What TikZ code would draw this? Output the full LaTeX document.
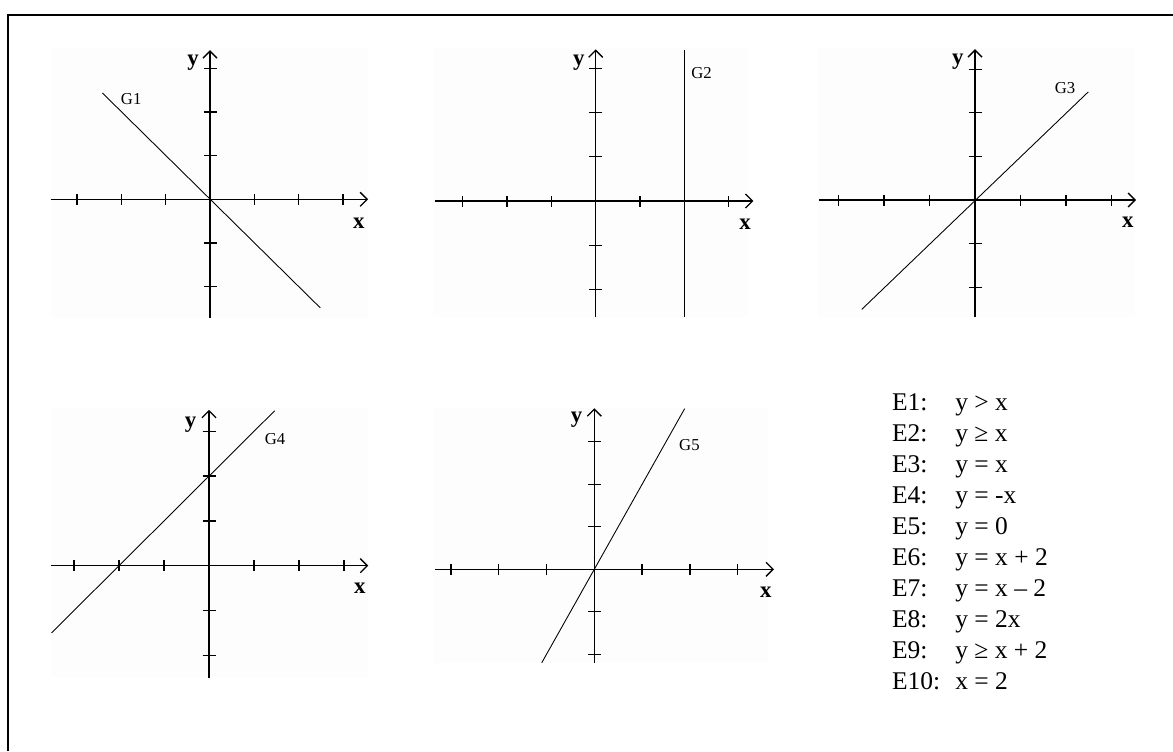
\documentclass[tikz,border=0pt]{standalone}
\usepackage{fontspec}
\setmainfont{Liberation Serif}
\usetikzlibrary{arrows.meta}
\definecolor{panel}{RGB}{253,253,253}
\tikzset{
    axis/.style={line width=0.75pt, -{Straight Barb[length=4pt,width=8pt]}},
    tickmark/.style={line width=0.75pt},
    graphline/.style={line width=0.5pt},
    axislabel/.style={font=\fontsize{13}{13}\selectfont\bfseries, inner sep=0pt},
    glabel/.style={font=\fontsize{9.5}{9.5}\selectfont, inner sep=0pt},
    eqtext/.style={font=\fontsize{14.5}{14.5}\selectfont, inner sep=0pt, anchor=base west}
}
\begin{document}
\begin{tikzpicture}[x=0.02cm, y=-0.02cm]
    \useasboundingbox (0,0) rectangle (1173,751);
    \draw[line width=1.3pt] (8,751) -- (8,15) -- (1173,15);

    % G1
    \begin{scope}[shift={(210,199.3)}, x=0.886cm, y=0.872cm]
        \fill[panel] (-3.6,-2.72) rectangle (3.57,3.47);
        \draw[axis] (-3.6,0) -- (3.57,0);
        \draw[axis] (0,-2.73) -- (0,3.42);
        \foreach \i in {-3,-2,-1,1,2,3}
            \draw[tickmark] (\i,0) ++(0,-0.11cm) -- ++(0,0.22cm);
        \foreach \j in {-2,-1,1,2,3}
            \draw[tickmark] (0,\j) ++(-0.13cm,0) -- ++(0.26cm,0);
        \draw[graphline] (-2.43,2.44) -- (2.49,-2.49);
        \node[axislabel] (ylab1) at (-0.38,3.13) {y};
        \node[axislabel] (xlab1) at (3.36,-0.54) {x};
        \node[glabel] (g1) at (-1.78,2.3) {G1};
    \end{scope}

    % G2
    \begin{scope}[shift={(595.7,201)}, x=0.886cm, y=0.884cm]
        \fill[panel] (-3.67,-2.62) rectangle (3.44,3.46);
        \draw[axis] (-3.63,0) -- (3.56,0);
        \draw[axis] (0,-2.63) -- (0,3.43);
        \foreach \i in {-3,-2,-1,1,2,3}
            \draw[tickmark] (\i,0) ++(0,-0.11cm) -- ++(0,0.22cm);
        \foreach \j in {-2,-1,1,2,3}
            \draw[tickmark] (0,\j) ++(-0.13cm,0) -- ++(0.26cm,0);
        \draw[line width=0.6pt] (2,3.41) -- (2,-2.63);
        \node[axislabel] (ylab2) at (-0.38,3.13) {y};
        \node[axislabel] (xlab2) at (3.37,-0.52) {x};
        \node[glabel] (g2) at (2.39,2.9) {G2};
    \end{scope}

    % G3
    \begin{scope}[shift={(975,200)}, x=0.91cm, y=0.872cm]
        \fill[panel] (-3.45,-2.68) rectangle (3.52,3.49);
        \draw[axis] (-3.42,0) -- (3.54,0);
        \draw[axis] (0,-2.69) -- (0,3.46);
        \foreach \i in {-3,-2,-1,1,2,3}
            \draw[tickmark] (\i,0) ++(0,-0.11cm) -- ++(0,0.22cm);
        \foreach \j in {-2,-1,1,2,3}
            \draw[tickmark] (0,\j) ++(-0.13cm,0) -- ++(0.26cm,0);
        \draw[graphline] (-2.49,-2.51) -- (2.49,2.48);
        \node[axislabel] (ylab3) at (-0.38,3.17) {y};
        \node[axislabel] (xlab3) at (3.36,-0.52) {x};
        \node[glabel] (g3) at (1.98,2.56) {G3};
    \end{scope}

    % G4
    \begin{scope}[shift={(209,565.7)}, x=0.9cm, y=0.896cm]
        \fill[panel] (-3.52,-2.49) rectangle (3.53,3.51);
        \draw[axis] (-3.52,0) -- (3.54,0);
        \draw[axis] (0,-2.51) -- (0,3.48);
        \foreach \i in {-3,-2,-1,1,2,3}
            \draw[tickmark] (\i,0) ++(0,-0.11cm) -- ++(0,0.22cm);
        \foreach \j in {-2,-1,1,2,3}
            \draw[tickmark] (0,\j) ++(-0.13cm,0) -- ++(0.26cm,0);
        \draw[graphline] (-3.5,-1.5) -- (1.46,3.46);
        \node[axislabel] (ylab4) at (-0.41,3.14) {y};
        \node[axislabel] (xlab4) at (3.35,-0.5) {x};
        \node[glabel] (g4) at (1.47,2.83) {G4};
    \end{scope}

    % G5
    \begin{scope}[shift={(594.3,569.3)}, x=0.956cm, y=0.85cm]
        \fill[panel] (-3.37,-2.2) rectangle (3.63,3.8);
        \draw[axis] (-3.33,0) -- (3.76,0);
        \draw[axis] (0,-2.21) -- (0,3.79);
        \foreach \i in {-3,-2,-1,1,2,3}
            \draw[tickmark] (\i,0) ++(0,-0.11cm) -- ++(0,0.22cm);
        \foreach \j in {-2,-1,1,2,3}
            \draw[tickmark] (0,\j) ++(-0.13cm,0) -- ++(0.26cm,0);
        \draw[graphline] (-1.1,-2.2) -- (1.89,3.78);
        \node[axislabel] (ylab5) at (-0.37,3.53) {y};
        \node[axislabel] (xlab5) at (3.59,-0.54) {x};
        \node[glabel] (g5) at (1.99,2.92) {G5};
    \end{scope}

    % equations
    \foreach \lab/\eq [count=\i from 0] in {E1:/y > x, E2:/y ≥ x, E3:/y = x, E4:/y = -x,
        E5:/y = 0, E6:/y = x + 2, E7:/y = x – 2, E8:/y = 2x, E9:/y ≥ x + 2, E10:/x = 2} {
        \node[eqtext] (lab\i) at (891.7,410+31.1*\i) {\lab};
        \node[eqtext] (eq\i) at (955,410+31.1*\i) {\eq};
    }
\end{tikzpicture}
\end{document}
